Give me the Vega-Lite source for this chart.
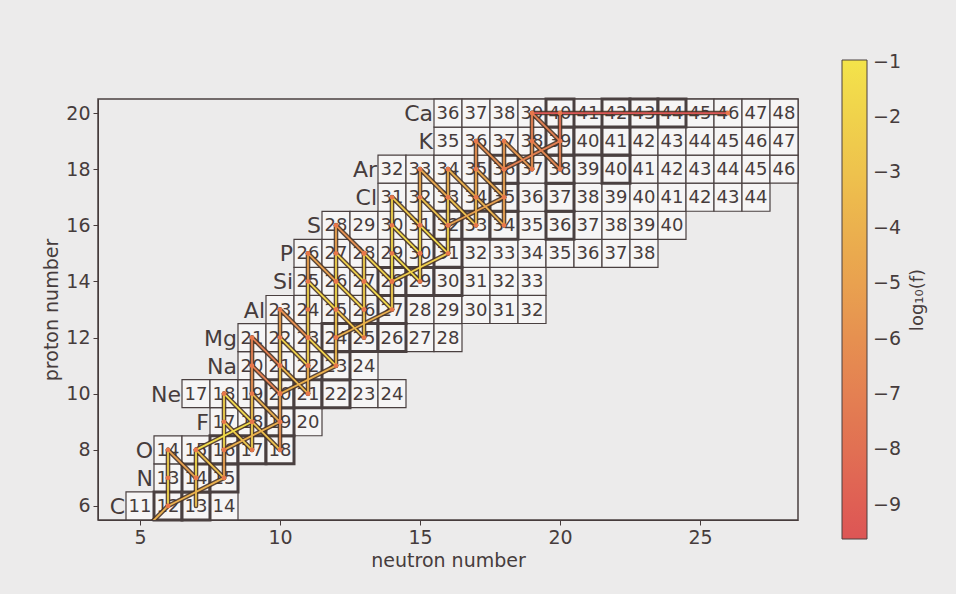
{
"$schema": "https://vega.github.io/schema/vega-lite/v6.json",
"width": 700, "height": 421,
"autosize": "none",
"padding": {"left": 98, "top": 99, "right": 158, "bottom": 74},
"background": "#ecebeb",
"config": {
  "font": "DejaVu Sans",
  "view": {"stroke": "#4a4040", "strokeWidth": 1.5},
  "axis": {"grid": false, "labelFontSize": 19, "titleFontSize": 19, "titleFontWeight": "normal", "labelColor": "#463c3c", "titleColor": "#463c3c", "tickColor": "#463c3c", "domainColor": "#463c3c", "tickSize": 5, "labelPadding": 3, "titlePadding": 4, "labelFlush": false},
  "legend": {"titleAngle": 270}
},
"datasets": {
"nuc": [
{"N":5,"Z":6,"A":11,"s":0},{"N":6,"Z":6,"A":12,"s":1},{"N":7,"Z":6,"A":13,"s":1},{"N":8,"Z":6,"A":14,"s":0},
{"N":6,"Z":7,"A":13,"s":0},{"N":7,"Z":7,"A":14,"s":1},{"N":8,"Z":7,"A":15,"s":1},
{"N":6,"Z":8,"A":14,"s":0},{"N":7,"Z":8,"A":15,"s":0},{"N":8,"Z":8,"A":16,"s":1},{"N":9,"Z":8,"A":17,"s":1},{"N":10,"Z":8,"A":18,"s":1},
{"N":8,"Z":9,"A":17,"s":0},{"N":9,"Z":9,"A":18,"s":0},{"N":10,"Z":9,"A":19,"s":1},{"N":11,"Z":9,"A":20,"s":0},
{"N":7,"Z":10,"A":17,"s":0},{"N":8,"Z":10,"A":18,"s":0},{"N":9,"Z":10,"A":19,"s":0},{"N":10,"Z":10,"A":20,"s":1},{"N":11,"Z":10,"A":21,"s":1},{"N":12,"Z":10,"A":22,"s":1},{"N":13,"Z":10,"A":23,"s":0},{"N":14,"Z":10,"A":24,"s":0},
{"N":9,"Z":11,"A":20,"s":0},{"N":10,"Z":11,"A":21,"s":0},{"N":11,"Z":11,"A":22,"s":0},{"N":12,"Z":11,"A":23,"s":1},{"N":13,"Z":11,"A":24,"s":0},
{"N":9,"Z":12,"A":21,"s":0},{"N":10,"Z":12,"A":22,"s":0},{"N":11,"Z":12,"A":23,"s":0},{"N":12,"Z":12,"A":24,"s":1},{"N":13,"Z":12,"A":25,"s":1},{"N":14,"Z":12,"A":26,"s":1},{"N":15,"Z":12,"A":27,"s":0},{"N":16,"Z":12,"A":28,"s":0},
{"N":10,"Z":13,"A":23,"s":0},{"N":11,"Z":13,"A":24,"s":0},{"N":12,"Z":13,"A":25,"s":0},{"N":13,"Z":13,"A":26,"s":0},{"N":14,"Z":13,"A":27,"s":1},{"N":15,"Z":13,"A":28,"s":0},{"N":16,"Z":13,"A":29,"s":0},{"N":17,"Z":13,"A":30,"s":0},{"N":18,"Z":13,"A":31,"s":0},{"N":19,"Z":13,"A":32,"s":0},
{"N":11,"Z":14,"A":25,"s":0},{"N":12,"Z":14,"A":26,"s":0},{"N":13,"Z":14,"A":27,"s":0},{"N":14,"Z":14,"A":28,"s":1},{"N":15,"Z":14,"A":29,"s":1},{"N":16,"Z":14,"A":30,"s":1},{"N":17,"Z":14,"A":31,"s":0},{"N":18,"Z":14,"A":32,"s":0},{"N":19,"Z":14,"A":33,"s":0},
{"N":11,"Z":15,"A":26,"s":0},{"N":12,"Z":15,"A":27,"s":0},{"N":13,"Z":15,"A":28,"s":0},{"N":14,"Z":15,"A":29,"s":0},{"N":15,"Z":15,"A":30,"s":0},{"N":16,"Z":15,"A":31,"s":1},{"N":17,"Z":15,"A":32,"s":0},{"N":18,"Z":15,"A":33,"s":0},{"N":19,"Z":15,"A":34,"s":0},{"N":20,"Z":15,"A":35,"s":0},{"N":21,"Z":15,"A":36,"s":0},{"N":22,"Z":15,"A":37,"s":0},{"N":23,"Z":15,"A":38,"s":0},
{"N":12,"Z":16,"A":28,"s":0},{"N":13,"Z":16,"A":29,"s":0},{"N":14,"Z":16,"A":30,"s":0},{"N":15,"Z":16,"A":31,"s":0},{"N":16,"Z":16,"A":32,"s":1},{"N":17,"Z":16,"A":33,"s":1},{"N":18,"Z":16,"A":34,"s":1},{"N":19,"Z":16,"A":35,"s":0},{"N":20,"Z":16,"A":36,"s":1},{"N":21,"Z":16,"A":37,"s":0},{"N":22,"Z":16,"A":38,"s":0},{"N":23,"Z":16,"A":39,"s":0},{"N":24,"Z":16,"A":40,"s":0},
{"N":14,"Z":17,"A":31,"s":0},{"N":15,"Z":17,"A":32,"s":0},{"N":16,"Z":17,"A":33,"s":0},{"N":17,"Z":17,"A":34,"s":0},{"N":18,"Z":17,"A":35,"s":1},{"N":19,"Z":17,"A":36,"s":0},{"N":20,"Z":17,"A":37,"s":1},{"N":21,"Z":17,"A":38,"s":0},{"N":22,"Z":17,"A":39,"s":0},{"N":23,"Z":17,"A":40,"s":0},{"N":24,"Z":17,"A":41,"s":0},{"N":25,"Z":17,"A":42,"s":0},{"N":26,"Z":17,"A":43,"s":0},{"N":27,"Z":17,"A":44,"s":0},
{"N":14,"Z":18,"A":32,"s":0},{"N":15,"Z":18,"A":33,"s":0},{"N":16,"Z":18,"A":34,"s":0},{"N":17,"Z":18,"A":35,"s":0},{"N":18,"Z":18,"A":36,"s":1},{"N":19,"Z":18,"A":37,"s":0},{"N":20,"Z":18,"A":38,"s":1},{"N":21,"Z":18,"A":39,"s":0},{"N":22,"Z":18,"A":40,"s":1},{"N":23,"Z":18,"A":41,"s":0},{"N":24,"Z":18,"A":42,"s":0},{"N":25,"Z":18,"A":43,"s":0},{"N":26,"Z":18,"A":44,"s":0},{"N":27,"Z":18,"A":45,"s":0},{"N":28,"Z":18,"A":46,"s":0},
{"N":16,"Z":19,"A":35,"s":0},{"N":17,"Z":19,"A":36,"s":0},{"N":18,"Z":19,"A":37,"s":0},{"N":19,"Z":19,"A":38,"s":0},{"N":20,"Z":19,"A":39,"s":1},{"N":21,"Z":19,"A":40,"s":1},{"N":22,"Z":19,"A":41,"s":1},{"N":23,"Z":19,"A":42,"s":0},{"N":24,"Z":19,"A":43,"s":0},{"N":25,"Z":19,"A":44,"s":0},{"N":26,"Z":19,"A":45,"s":0},{"N":27,"Z":19,"A":46,"s":0},{"N":28,"Z":19,"A":47,"s":0},
{"N":16,"Z":20,"A":36,"s":0},{"N":17,"Z":20,"A":37,"s":0},{"N":18,"Z":20,"A":38,"s":0},{"N":19,"Z":20,"A":39,"s":0},{"N":20,"Z":20,"A":40,"s":1},{"N":21,"Z":20,"A":41,"s":0},{"N":22,"Z":20,"A":42,"s":1},{"N":23,"Z":20,"A":43,"s":1},{"N":24,"Z":20,"A":44,"s":1},{"N":25,"Z":20,"A":45,"s":0},{"N":26,"Z":20,"A":46,"s":0},{"N":27,"Z":20,"A":47,"s":0},{"N":28,"Z":20,"A":48,"s":0}
],
"elem": [
{"N":5,"Z":6,"sym":"C"},{"N":6,"Z":7,"sym":"N"},{"N":6,"Z":8,"sym":"O"},{"N":8,"Z":9,"sym":"F"},{"N":7,"Z":10,"sym":"Ne"},{"N":9,"Z":11,"sym":"Na"},{"N":9,"Z":12,"sym":"Mg"},{"N":10,"Z":13,"sym":"Al"},{"N":11,"Z":14,"sym":"Si"},{"N":11,"Z":15,"sym":"P"},{"N":12,"Z":16,"sym":"S"},{"N":14,"Z":17,"sym":"Cl"},{"N":14,"Z":18,"sym":"Ar"},{"N":16,"Z":19,"sym":"K"},{"N":16,"Z":20,"sym":"Ca"}
],
"flow": [
{"N":5,"Z":5,"N2":6,"Z2":6,"logf":-4},
{"N":6,"Z":6,"N2":6,"Z2":7,"logf":-1.8},
{"N":6,"Z":7,"N2":6,"Z2":8,"logf":-2.2},
{"N":6,"Z":8,"N2":7,"Z2":7,"logf":-5},
{"N":7,"Z":6,"N2":7,"Z2":7,"logf":-3},
{"N":7,"Z":7,"N2":7,"Z2":8,"logf":-1.5},
{"N":7,"Z":8,"N2":8,"Z2":7,"logf":-3},
{"N":8,"Z":7,"N2":6,"Z2":6,"logf":-4},
{"N":8,"Z":7,"N2":8,"Z2":8,"logf":-5},
{"N":8,"Z":8,"N2":8,"Z2":9,"logf":-1.6},
{"N":8,"Z":9,"N2":9,"Z2":8,"logf":-2.5},
{"N":9,"Z":8,"N2":9,"Z2":9,"logf":-2.2},
{"N":9,"Z":9,"N2":7,"Z2":8,"logf":-1.3},
{"N":8,"Z":9,"N2":8,"Z2":10,"logf":-2},
{"N":8,"Z":10,"N2":9,"Z2":9,"logf":-1.5},
{"N":9,"Z":9,"N2":9,"Z2":10,"logf":-3},
{"N":9,"Z":9,"N2":10,"Z2":8,"logf":-3},
{"N":10,"Z":8,"N2":10,"Z2":9,"logf":-6},
{"N":9,"Z":10,"N2":10,"Z2":9,"logf":-4},
{"N":10,"Z":9,"N2":8,"Z2":8,"logf":-4},
{"N":10,"Z":9,"N2":10,"Z2":10,"logf":-5},
{"N":9,"Z":10,"N2":9,"Z2":11,"logf":-6},
{"N":9,"Z":11,"N2":9,"Z2":12,"logf":-7},
{"N":9,"Z":11,"N2":10,"Z2":10,"logf":-7},
{"N":9,"Z":12,"N2":10,"Z2":11,"logf":-7},
{"N":10,"Z":10,"N2":10,"Z2":11,"logf":-3},
{"N":10,"Z":11,"N2":11,"Z2":10,"logf":-3.5},
{"N":10,"Z":11,"N2":10,"Z2":12,"logf":-3},
{"N":10,"Z":12,"N2":11,"Z2":11,"logf":-2},
{"N":10,"Z":12,"N2":10,"Z2":13,"logf":-5},
{"N":10,"Z":13,"N2":11,"Z2":12,"logf":-6},
{"N":11,"Z":10,"N2":11,"Z2":11,"logf":-4},
{"N":11,"Z":11,"N2":11,"Z2":12,"logf":-2.2},
{"N":11,"Z":12,"N2":12,"Z2":11,"logf":-2},
{"N":11,"Z":12,"N2":11,"Z2":13,"logf":-2.5},
{"N":11,"Z":13,"N2":11,"Z2":14,"logf":-2},
{"N":11,"Z":14,"N2":12,"Z2":13,"logf":-1.8},
{"N":11,"Z":14,"N2":11,"Z2":15,"logf":-5},
{"N":11,"Z":15,"N2":12,"Z2":14,"logf":-5},
{"N":12,"Z":11,"N2":10,"Z2":10,"logf":-4},
{"N":12,"Z":11,"N2":12,"Z2":12,"logf":-3.5},
{"N":12,"Z":12,"N2":12,"Z2":13,"logf":-2.8},
{"N":12,"Z":13,"N2":12,"Z2":14,"logf":-1.6},
{"N":12,"Z":14,"N2":12,"Z2":15,"logf":-2},
{"N":12,"Z":15,"N2":12,"Z2":16,"logf":-5},
{"N":12,"Z":16,"N2":13,"Z2":15,"logf":-6},
{"N":12,"Z":14,"N2":13,"Z2":13,"logf":-1.8},
{"N":12,"Z":15,"N2":13,"Z2":14,"logf":-2},
{"N":12,"Z":13,"N2":13,"Z2":12,"logf":-3},
{"N":13,"Z":12,"N2":13,"Z2":13,"logf":-3},
{"N":13,"Z":13,"N2":13,"Z2":14,"logf":-2.2},
{"N":13,"Z":14,"N2":14,"Z2":13,"logf":-1.6},
{"N":13,"Z":14,"N2":13,"Z2":15,"logf":-2.2},
{"N":13,"Z":15,"N2":14,"Z2":14,"logf":-2},
{"N":14,"Z":13,"N2":14,"Z2":14,"logf":-2.3},
{"N":14,"Z":13,"N2":12,"Z2":12,"logf":-4},
{"N":14,"Z":14,"N2":14,"Z2":15,"logf":-1.2},
{"N":14,"Z":15,"N2":14,"Z2":16,"logf":-1.5},
{"N":14,"Z":16,"N2":14,"Z2":17,"logf":-2},
{"N":14,"Z":17,"N2":15,"Z2":16,"logf":-2.5},
{"N":14,"Z":16,"N2":15,"Z2":15,"logf":-1.5},
{"N":14,"Z":15,"N2":15,"Z2":14,"logf":-1.5},
{"N":15,"Z":14,"N2":15,"Z2":15,"logf":-2},
{"N":15,"Z":15,"N2":15,"Z2":16,"logf":-1.5},
{"N":15,"Z":16,"N2":15,"Z2":17,"logf":-3},
{"N":15,"Z":16,"N2":16,"Z2":15,"logf":-1.5},
{"N":15,"Z":17,"N2":16,"Z2":16,"logf":-3},
{"N":15,"Z":17,"N2":15,"Z2":18,"logf":-4.5},
{"N":15,"Z":18,"N2":16,"Z2":17,"logf":-4.5},
{"N":16,"Z":15,"N2":16,"Z2":16,"logf":-2},
{"N":16,"Z":15,"N2":14,"Z2":14,"logf":-2.2},
{"N":16,"Z":16,"N2":16,"Z2":17,"logf":-2.5},
{"N":16,"Z":17,"N2":17,"Z2":16,"logf":-3},
{"N":16,"Z":17,"N2":16,"Z2":18,"logf":-4},
{"N":16,"Z":18,"N2":17,"Z2":17,"logf":-4},
{"N":17,"Z":16,"N2":17,"Z2":17,"logf":-3.5},
{"N":17,"Z":17,"N2":18,"Z2":16,"logf":-4},
{"N":17,"Z":17,"N2":17,"Z2":18,"logf":-4.5},
{"N":17,"Z":18,"N2":17,"Z2":19,"logf":-6},
{"N":17,"Z":19,"N2":18,"Z2":18,"logf":-6},
{"N":17,"Z":18,"N2":18,"Z2":17,"logf":-4.5},
{"N":18,"Z":16,"N2":18,"Z2":17,"logf":-5},
{"N":18,"Z":17,"N2":16,"Z2":16,"logf":-5},
{"N":18,"Z":17,"N2":18,"Z2":18,"logf":-5},
{"N":18,"Z":18,"N2":18,"Z2":19,"logf":-5.5},
{"N":18,"Z":19,"N2":19,"Z2":18,"logf":-5.5},
{"N":19,"Z":18,"N2":19,"Z2":19,"logf":-6},
{"N":19,"Z":19,"N2":19,"Z2":20,"logf":-7},
{"N":19,"Z":19,"N2":20,"Z2":18,"logf":-6.5},
{"N":19,"Z":20,"N2":20,"Z2":19,"logf":-7},
{"N":20,"Z":18,"N2":20,"Z2":19,"logf":-7},
{"N":20,"Z":19,"N2":20,"Z2":20,"logf":-8},
{"N":20,"Z":19,"N2":18,"Z2":18,"logf":-7},
{"N":19,"Z":20,"N2":26,"Z2":20,"logf":-9.5}
]
},
"encoding": {
  "x": {"field": "N", "type": "quantitative", "scale": {"domain": [3.5, 28.5], "nice": false, "zero": false}, "axis": {"values": [5, 10, 15, 20, 25], "title": "neutron number"}},
  "y": {"field": "Z", "type": "quantitative", "scale": {"domain": [5.5, 20.5], "nice": false, "zero": false}, "axis": {"values": [6, 8, 10, 12, 14, 16, 18, 20], "title": "proton number"}}
},
"layer": [
  {"data": {"name": "nuc"},
   "mark": {"type": "point", "shape": "square", "size": 784, "filled": true, "fill": "#f6f5f5", "stroke": "#4a4040", "opacity": 1},
   "encoding": {"strokeWidth": {"condition": {"test": "datum.s === 1", "value": 3}, "value": 1.2}, "order": {"field": "s", "type": "quantitative"}}},
  {"data": {"name": "nuc"},
   "mark": {"type": "text", "fontSize": 18, "color": "#463c3c", "align": "center", "baseline": "middle", "dy": 1},
   "encoding": {"text": {"field": "A", "type": "nominal"}}},
  {"data": {"name": "elem"},
   "mark": {"type": "text", "fontSize": 22, "color": "#463c3c", "align": "right", "baseline": "middle", "dx": -15, "dy": 1},
   "encoding": {"text": {"field": "sym", "type": "nominal"}}},
  {"data": {"name": "flow"},
   "mark": {"type": "rule", "stroke": "#4a3426", "strokeWidth": 4.6, "strokeCap": "round", "opacity": 0.9, "clip": true},
   "encoding": {"x2": {"field": "N2"}, "y2": {"field": "Z2"}}},
  {"data": {"name": "flow"},
   "mark": {"type": "rule", "strokeWidth": 1.8, "strokeCap": "round", "clip": true},
   "encoding": {"x2": {"field": "N2"}, "y2": {"field": "Z2"},
     "color": {"field": "logf", "type": "quantitative",
       "scale": {"domain": [-9.62, -0.97], "range": ["#dd5555", "#f3e34a"], "interpolate": "rgb"},
       "legend": {"orient": "none", "legendX": 744, "legendY": -39, "direction": "vertical", "gradientLength": 479, "gradientThickness": 25, "gradientStrokeColor": "#4a4040", "gradientStrokeWidth": 1, "values": [-9, -8, -7, -6, -5, -4, -3, -2, -1], "labelFontSize": 19, "labelColor": "#463c3c", "labelOffset": 6, "title": "log₁₀(f)", "titleOrient": "right", "titleFontSize": 18, "titleFontWeight": "normal", "titleColor": "#463c3c", "titleAnchor": "middle", "titlePadding": 26,
         "encode": {"title": {"update": {"angle": {"value": 270}}}}}}}},
  {"data": {"name": "flow"},
   "mark": {"type": "point", "filled": true, "shape": "circle", "size": 22, "color": "#e8784a", "opacity": 1, "clip": true},
   "encoding": {
     "x": {"field": "N2", "type": "quantitative", "scale": {"domain": [3.5, 28.5], "nice": false, "zero": false}, "axis": {"values": [5, 10, 15, 20, 25], "title": "neutron number"}},
     "y": {"field": "Z2", "type": "quantitative", "scale": {"domain": [5.5, 20.5], "nice": false, "zero": false}, "axis": {"values": [6, 8, 10, 12, 14, 16, 18, 20], "title": "proton number"}}}}
]
}
